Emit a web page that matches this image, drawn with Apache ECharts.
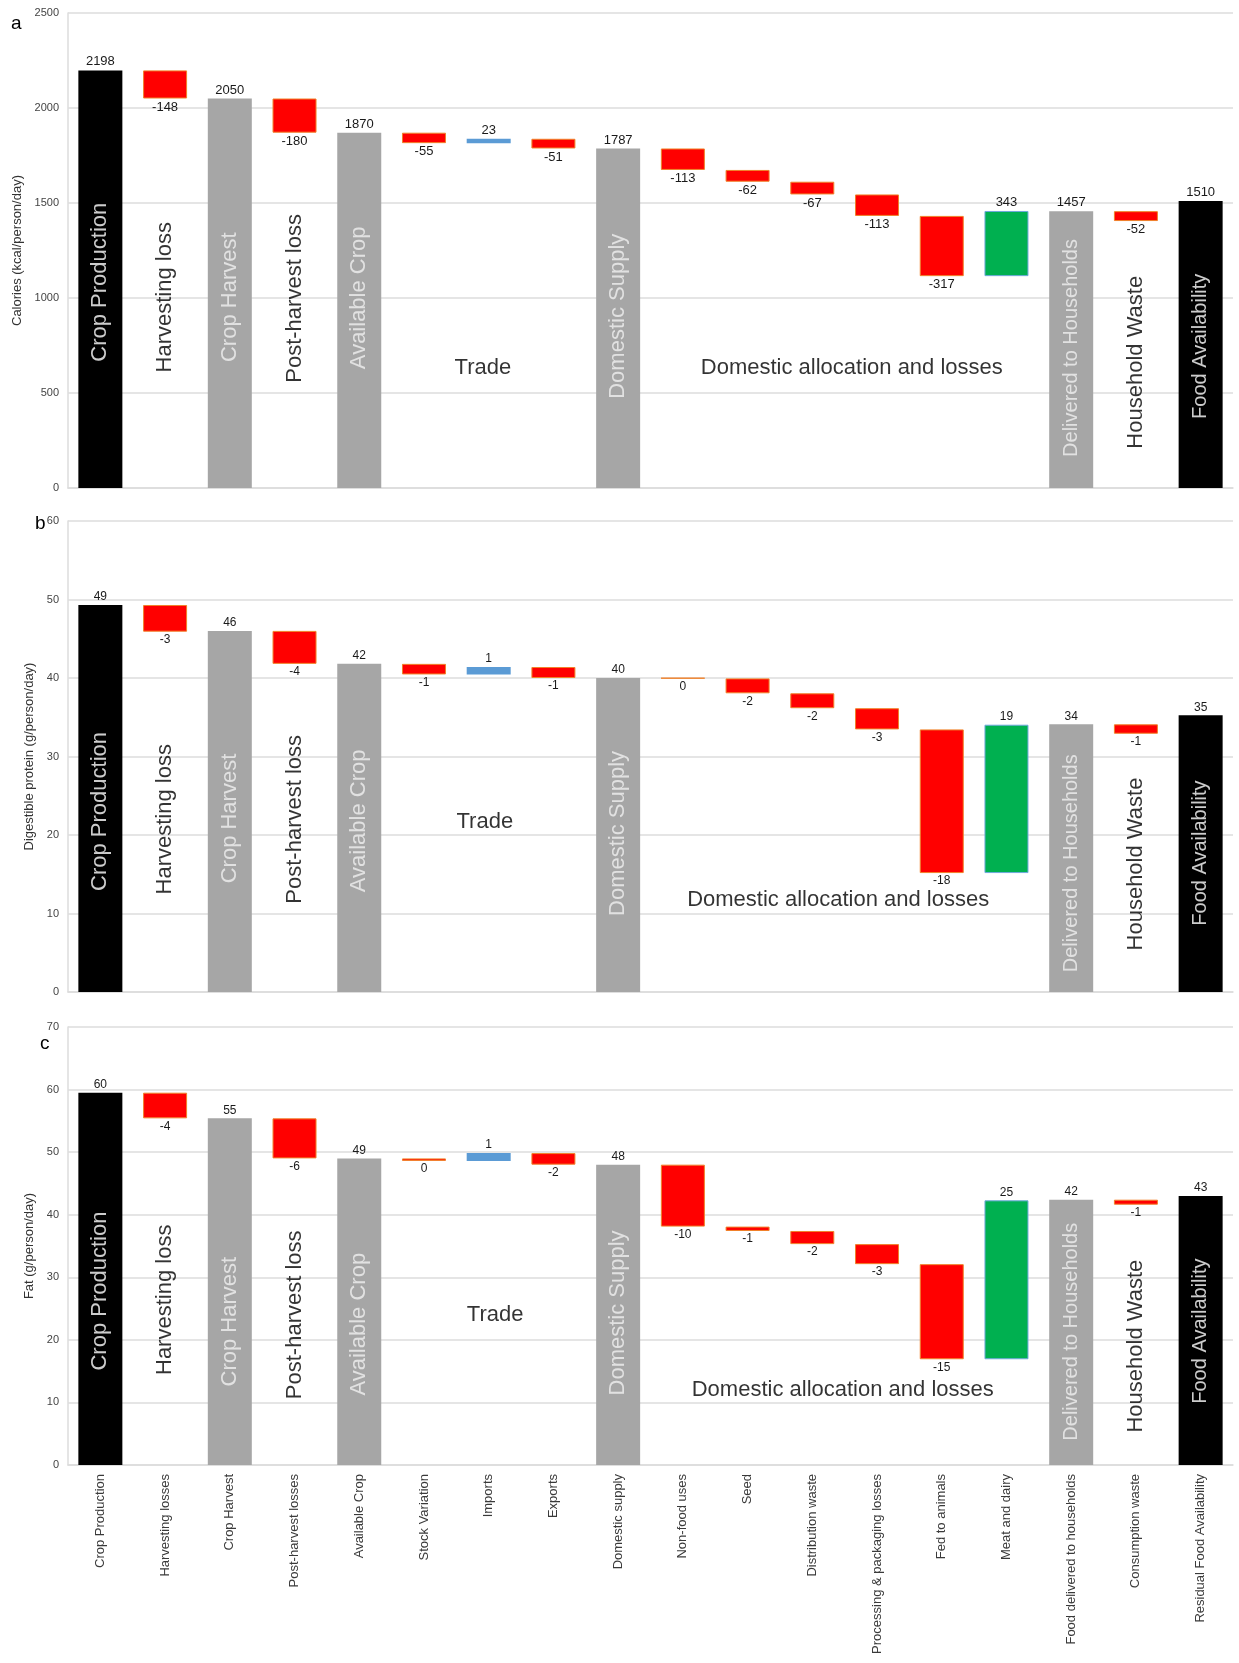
<!DOCTYPE html>
<html>
<head>
<meta charset="utf-8">
<script src="https://cdn.jsdelivr.net/npm/echarts@6/dist/echarts.min.js"></script>
<style>
  html, body { margin: 0; padding: 0; background: #fff; }
  #chart { width: 1239px; height: 1663px; }
</style>
</head>
<body>
<div id="chart"></div>
<script>
// categories along the flow
const categories = [
  "Crop Production", "Harvesting losses", "Crop Harvest", "Post-harvest losses",
  "Available Crop", "Stock Variation", "Imports", "Exports", "Domestic supply",
  "Non-food uses", "Seed", "Distribution waste", "Processing & packaging losses",
  "Fed to animals", "Meat and dairy", "Food delivered to households",
  "Consumption waste", "Residual Food Availability"
];
// total = bar from zero, loss/gain = floating step from previous level
const stepKinds = [
  "total", "loss", "total", "loss", "total", "loss", "gain", "loss", "total",
  "loss", "loss", "loss", "loss", "loss", "gain", "total", "loss", "total"
];

// values
const calories = [2198, -148, 2050, -180, 1870, -55, 23, -51, 1787, -113, -62, -67, -113, -317, 343, 1457, -52, 1510];
const protein = [49.3, -3.4, 46.0, -4.2, 41.8, -1.35, 0.95, -1.4, 40.0, -0.05, -1.9, -1.9, -2.7, -18.3, 18.9, 34.1, -1.2, 35.25];
const fat = [59.5, -4.1, 55.4, -6.4, 49.0, -0.4, 1.25, -1.85, 48.0, -9.9, -0.7, -2.1, -3.2, -15.2, 25.4, 42.4, -0.8, 43.0];

// y tick labels
const caloriesTicks = [0, 500, 1000, 1500, 2000, 2500];
const proteinTicks = [0, 10, 20, 30, 40, 50, 60];
const fatTicks = [0, 10, 20, 30, 40, 50, 60, 70];

// annotations written over the chart
const noteTexts = [
  "Crop Production", "Harvesting loss", "Crop Harvest", "Post-harvest loss",
  "Available Crop", "Trade", "Domestic Supply", "Domestic allocation and losses",
  "Delivered to Households", "Household Waste", "Food Availability"
];
const noteKinds = ["dark", "free", "gray", "free", "gray", "flat", "gray", "flat", "gray", "free", "dark"];
const noteXa = [0.5, 1.5, 2.5, 3.5, 4.5, 6.41, 8.5, 12.11, 15.5, 16.5, 17.5];
const noteYa = [1083, 1004, 1004, 998, 1001, 630, 904, 630, 737, 662, 746];
const noteXb = [0.5, 1.5, 2.5, 3.5, 4.5, 6.44, 8.5, 11.9, 15.5, 16.5, 17.5];
const noteYb = [23.0, 22.0, 22.1, 22.0, 21.8, 21.7, 20.2, 11.7, 16.4, 16.3, 17.7];
const noteXc = [0.5, 1.5, 2.5, 3.5, 4.5, 6.6, 8.5, 11.97, 15.5, 16.5, 17.5];
const noteYc = [27.8, 26.4, 22.9, 24.0, 22.5, 24.0, 24.3, 12.0, 21.3, 19.0, 21.4];

const panels = [
  { values: calories, ticks: caloriesTicks, name: "Calories (kcal/person/day)", top: 13, height: 475, nameGap: 44, noteX: noteXa, noteY: noteYa, labelSize: 13 },
  { values: protein, ticks: proteinTicks, name: "Digestible protein (g/person/day)", top: 521, height: 471, nameGap: 28, noteX: noteXb, noteY: noteYb, labelSize: 12 },
  { values: fat, ticks: fatTicks, name: "Fat (g/person/day)", top: 1027, height: 438, nameGap: 28, noteX: noteXc, noteY: noteYc, labelSize: 12 }
];

const FONT = "Liberation Sans, Arial, sans-serif";
const GRID_COLOR = "#dcdcdc";

function totalColor(i) {
  return (i === 0 || i === categories.length - 1) ? "#000000" : "#a6a6a6";
}
function gainStyle(i) {
  return categories[i] === "Imports"
    ? { color: "#5b9bd5" }
    : { color: "#00b050", borderColor: "#6fa8dc", borderWidth: 1 };
}

const grids = [], xAxes = [], yAxes = [], series = [];

panels.forEach((p, k) => {
  grids.push({ left: 68, right: 6, top: p.top, height: p.height });

  xAxes.push({
    type: "category", gridIndex: k, data: categories,
    axisLine: { lineStyle: { color: GRID_COLOR, width: 1.5 } },
    axisTick: { show: false },
    axisLabel: k === 2
      ? { show: true, interval: 0, rotate: 90, fontSize: 13, color: "#3a3a3a", fontFamily: FONT, margin: 9 }
      : { show: false }
  });

  const step = p.ticks[1] - p.ticks[0];
  yAxes.push({
    type: "value", gridIndex: k,
    min: p.ticks[0], max: p.ticks[p.ticks.length - 1], interval: step,
    name: p.name, nameLocation: "middle", nameGap: p.nameGap, nameRotate: 90,
    nameTextStyle: { fontSize: 13, color: "#333", fontFamily: FONT },
    axisLine: { show: true, lineStyle: { color: GRID_COLOR, width: 1.5 } },
    axisTick: { show: false },
    axisLabel: { fontSize: 11, color: "#444", fontFamily: FONT, margin: 9, formatter: (v) => String(v) },
    splitLine: { lineStyle: { color: GRID_COLOR, width: 1.5 } }
  });

  // waterfall levels
  const lows = [], heights = [];
  let level = 0;
  p.values.forEach((v, i) => {
    if (stepKinds[i] === "total") {
      lows.push(0);
      heights.push(v);
      level = v;
    } else {
      const end = level + v;
      lows.push(Math.min(level, end));
      heights.push(Math.abs(v));
      level = end;
    }
  });

  series.push({
    type: "bar", xAxisIndex: k, yAxisIndex: k, stack: "w" + k,
    barWidth: 44, silent: true,
    itemStyle: { color: "transparent" },
    data: lows
  });

  series.push({
    type: "bar", xAxisIndex: k, yAxisIndex: k, stack: "w" + k,
    barWidth: 44,
    emphasis: { disabled: true },
    data: heights.map((h, i) => {
      const kind = stepKinds[i];
      let style;
      if (kind === "total") style = { color: totalColor(i) };
      else if (kind === "loss") style = { color: "#ff0000", borderColor: "#f0822a", borderWidth: 1 };
      else style = gainStyle(i);
      return {
        value: h,
        itemStyle: style,
        label: {
          show: true,
          position: kind === "loss" ? "bottom" : "top",
          distance: 2,
          formatter: String(Math.round(p.values[i]) || 0),
          fontSize: p.labelSize, color: "#1a1a1a", fontFamily: FONT
        }
      };
    })
  });
});

// hidden value axes to place the annotation texts between category centres
panels.forEach((p, k) => {
  xAxes.push({ type: "value", gridIndex: k, min: 0, max: 18, show: false });
  series.push({
    type: "scatter", xAxisIndex: 3 + k, yAxisIndex: k,
    symbolSize: 1, itemStyle: { color: "transparent" }, silent: true, z: 10,
    data: noteTexts.map((t, i) => {
      const kind = noteKinds[i];
      const color = kind === "dark" ? "#ffffff" : kind === "gray" ? "#f0f0f0" : "#000000";
      const small = t === "Delivered to Households" || t === "Food Availability";
      return {
        value: [p.noteX[i], p.noteY[i]],
        label: {
          show: true, position: "inside", formatter: t,
          rotate: kind === "flat" ? 0 : 90,
          fontSize: small ? 20 : 22, color: color, fontFamily: FONT
        }
      };
    })
  });
});

const chart = echarts.init(document.getElementById("chart"));
chart.setOption({
  animation: false,
  backgroundColor: "#ffffff",
  grid: grids,
  xAxis: xAxes,
  yAxis: yAxes,
  series: series,
  graphic: [
    { type: "text", left: 11, top: 14, style: { text: "a", fontSize: 19, fill: "#000", fontFamily: FONT } },
    { type: "text", left: 35, top: 514, style: { text: "b", fontSize: 19, fill: "#000", fontFamily: FONT } },
    { type: "text", left: 40, top: 1034, style: { text: "c", fontSize: 19, fill: "#000", fontFamily: FONT } }
  ]
});
</script>
</body>
</html>
